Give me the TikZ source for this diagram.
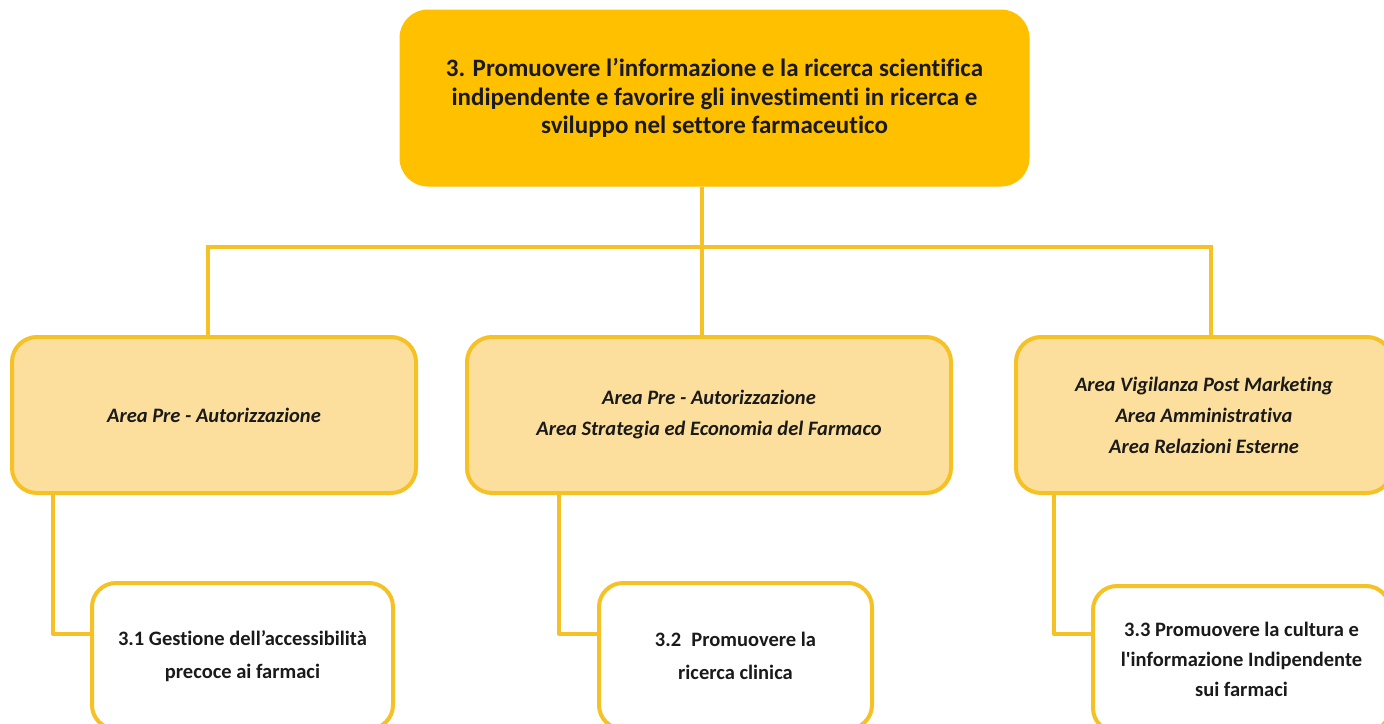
\documentclass[tikz,border=0pt]{standalone}
\usepackage{fontspec}
\setmainfont{Carlito}[Ligatures={TeXOff,NoCommon}]
\definecolor{topfill}{HTML}{FFC000}
\definecolor{midfill}{HTML}{FCDF9C}
\definecolor{gold}{HTML}{F5C125}
\definecolor{txt}{HTML}{1A1A1A}
\tikzset{
  topbox/.style={rectangle, rounded corners=28pt, fill=topfill, draw=topfill, line width=1pt, align=center, text=txt, font=\fontsize{25}{28.5}\selectfont\bfseries},
  midbox/.style={rectangle, rounded corners=25pt, fill=midfill, draw=gold, line width=4pt, align=center, text=txt, font=\fontsize{20.5}{31}\selectfont\bfseries\itshape},
  lowbox/.style={rectangle, rounded corners=24pt, fill=white, draw=gold, line width=4pt, align=center, text=txt, font=\fontsize{20.5}{33}\selectfont\bfseries},
  link/.style={draw=gold, line width=4pt}
}
\begin{document}
\begin{tikzpicture}[x=1pt,y=-1pt]
\useasboundingbox (0,0) rectangle (1384,723);
\clip (0,0) rectangle (1384,723);
\fill[white] (0,0) rectangle (1384,723);
% nodes
\node[topbox, minimum width=629pt, minimum height=176pt] (top) at (714.5,98) {3. Promuovere l’informazione e la ricerca scientifica\\indipendente e favorire gli investimenti in ricerca e\\sviluppo nel settore farmaceutico};
\node[midbox, minimum width=404pt, minimum height=156pt] (m1) at (214,415) {Area Pre - Autorizzazione};
\node[midbox, minimum width=484pt, minimum height=156pt] (m2) at (709,415) {Area Pre - Autorizzazione\\Area Strategia ed Economia del Farmaco};
\node[midbox, minimum width=376pt, minimum height=156pt] (m3) at (1204,415) {Area Vigilanza Post Marketing\\Area Amministrativa\\Area Relazioni Esterne};
\node[lowbox, minimum width=301pt, minimum height=146pt] (b1) at (242.5,656) {3.1 Gestione dell’accessibilità\\precoce ai farmaci};
\node[lowbox, minimum width=273pt, minimum height=146pt] (b2) at (735.5,656) {3.2\enspace Promuovere la\\ricerca clinica};
\node[lowbox, minimum width=297pt, minimum height=146pt, font=\fontsize{20.5}{30}\selectfont\bfseries] (b3) at (1241.5,659) {3.3 Promuovere la cultura e\\l'informazione Indipendente\\sui farmaci};
% connectors
\coordinate (hub) at (702,247);
\coordinate (hl) at (208,247);
\coordinate (hr) at (1211,247);
\draw[link] (top.south -| hub) -- (hub);
\draw[link, line cap=rect] (hl) -- (hr);
\draw[link] (hl) -- (hl |- m1.north);
\draw[link] (hub) -- (hub |- m2.north);
\draw[link] (hr) -- (hr |- m3.north);
\coordinate (c1) at (53,634);
\coordinate (c2) at (559,634);
\coordinate (c3) at (1054,634);
\draw[link, line join=round] (c1 |- m1.south) -- (c1) -- (c1 -| b1.west);
\draw[link, line join=round] (c2 |- m2.south) -- (c2) -- (c2 -| b2.west);
\draw[link, line join=round] (c3 |- m3.south) -- (c3) -- (c3 -| b3.west);
\end{tikzpicture}
\end{document}
